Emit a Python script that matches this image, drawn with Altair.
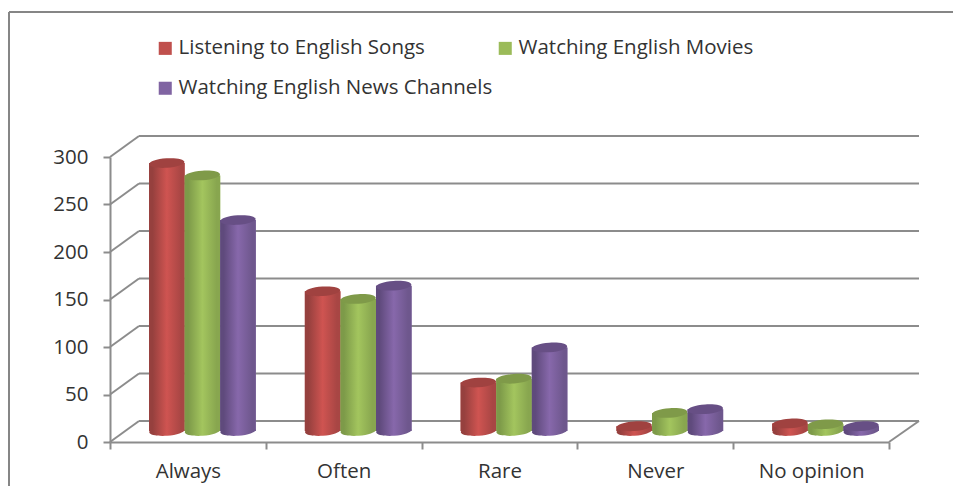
import altair as alt
import pandas as pd

categories = ["Always", "Often", "Rare", "Never", "No opinion"]
series_names = ["Listening to English Songs", "Watching English Movies", "Watching English News Channels"]
songs = [282, 147, 51, 5, 8]
movies = [269, 139, 55, 19, 7]
news = [222, 153, 88, 23, 5]
ticks = [0, 50, 100, 150, 200, 250, 300]
flat_colors = ["#c0504d", "#9bbb59", "#8064a2"]
edge_left = ["#96403e", "#7d9a49", "#5f4a7c"]
edge_mid = ["#cf5451", "#a3c55e", "#8768ab"]
edge_right = ["#a84644", "#88a64f", "#6e578d"]
top_colors = ["#a04240", "#7f9a49", "#674f85"]

W, H = 779, 285
DX, DY = 29, 21
MID_DX, MID_DY = 14.5, -11
GRID = "#8c8c8c"
FONT = "Open Sans"
TEXT = "#333333"
UNITS_DEPTH = 22.1
ELLIPSE = "M-1,0.07 A1,0.27 -4 1,1 1,-0.07 A1,0.27 -4 1,1 -1,0.07 Z"
CYL_SIZE = 1240

rows = []
for name, vals in zip(series_names, [songs, movies, news]):
    for c, v in zip(categories, vals):
        rows.append({"cat": c, "series": name, "value": v})
df = pd.DataFrame(rows)
tick_df = pd.DataFrame({"v": ticks})
tick_df["v2"] = tick_df["v"] + UNITS_DEPTH
floor_df = pd.DataFrame({"v": [0], "v2": [UNITS_DEPTH]})
frame_df = pd.DataFrame({"a": [0]})
cat_df = pd.DataFrame({"cat": categories, "v": [0] * 5})

y_scale = alt.Scale(domain=[0, 300], range=[H, 0], nice=False)
y_plain = alt.Y("v:Q", scale=y_scale, axis=None)
y_axis = alt.Y("v:Q", scale=y_scale, title=None,
               axis=alt.Axis(values=ticks, grid=False, tickSize=7, tickWidth=2, tickColor=GRID,
                             domain=True, domainColor=GRID, domainWidth=2, labels=True,
                             labelFont=FONT, labelFontSize=20.5,
                             labelColor=TEXT, labelPadding=15))

# frame
frame_top = alt.Chart(frame_df).mark_rule(color="#868686", strokeWidth=2).encode(
    x=alt.value(-101), x2=alt.value(860), y=alt.value(-145))
frame_left = alt.Chart(frame_df).mark_rule(color="#868686", strokeWidth=2).encode(
    x=alt.value(-101), y=alt.value(-145), y2=alt.value(340))

# y axis carrier, back wall and side wall
y_carrier = alt.Chart(tick_df).mark_point(opacity=0).encode(y=y_axis, x=alt.value(0))
back = alt.Chart(tick_df).mark_rule(color=GRID, strokeWidth=2, yOffset=-DY).encode(
    y=y_plain, x=alt.value(DX), x2=alt.value(W + DX + 1))
diag = alt.Chart(tick_df).mark_rule(color=GRID, strokeWidth=2).encode(
    y=y_plain, y2="v2:Q", x=alt.value(0), x2=alt.value(DX))
floor_right = alt.Chart(floor_df).mark_rule(color=GRID, strokeWidth=2).encode(
    y=y_plain, y2="v2:Q", x=alt.value(W), x2=alt.value(W + DX + 1))

# front x axis
x_front = alt.Chart(cat_df).mark_bar(opacity=0).encode(
    x=alt.X("cat:N", sort=categories, title=None,
            scale=alt.Scale(domain=categories, range=[0, W], paddingInner=0, paddingOuter=0),
            axis=alt.Axis(labelAngle=0, tickBand="extent", tickSize=7, tickWidth=2, tickColor=GRID,
                          domainColor=GRID, domainWidth=2, labelFont=FONT, labelFontSize=20.5,
                          labelColor=TEXT, labelPadding=12)),
    y=y_plain,
)

# cylinders
x_mid = alt.X("cat:N", sort=categories, axis=None,
              scale=alt.Scale(domain=categories, range=[MID_DX, W + MID_DX], paddingInner=0, paddingOuter=0))
x_off = alt.XOffset("series:N", sort=series_names,
                    scale=alt.Scale(domain=series_names, paddingInner=0, paddingOuter=0.69))
y_val = alt.Y("value:Q", scale=y_scale, axis=None)

base = alt.Chart(df).mark_bar(yOffset=MID_DY, opacity=1).encode(
    x=x_mid, xOffset=x_off, y=y_val,
    color=alt.Color("series:N", sort=series_names,
                    scale=alt.Scale(domain=series_names, range=flat_colors),
                    legend=alt.Legend(title=None, orient="none", legendX=45, legendY=-119, columns=2,
                                      values=[series_names[0], series_names[2], series_names[1]],
                                      symbolType="square", symbolSize=170, symbolStrokeWidth=0,
                                      labelFont=FONT, labelFontSize=20.5, labelColor=TEXT, padding=0,
                                      labelOffset=3, columnPadding=2, rowPadding=19,
                                      labelLimit=400)),
)

cyl_layers = [base]
for i, name in enumerate(series_names):
    grad = alt.LinearGradient(gradient="linear", x1=0, x2=1, y1=0, y2=0, stops=[
        alt.GradientStop(offset=0, color=edge_left[i]),
        alt.GradientStop(offset=0.1, color=edge_left[i]),
        alt.GradientStop(offset=0.5, color=edge_mid[i]),
        alt.GradientStop(offset=0.9, color=edge_right[i]),
        alt.GradientStop(offset=1, color=edge_right[i]),
    ])
    sub = alt.Chart(df).transform_filter(alt.datum.series == name)
    bottom = sub.mark_point(shape=ELLIPSE, size=CYL_SIZE, filled=True, fill=grad, opacity=1,
                            strokeWidth=0, yOffset=MID_DY).encode(
        x=x_mid, xOffset=x_off, y=alt.Y("zero:Q", scale=y_scale, axis=None)
    ).transform_calculate(zero="0")
    body = sub.mark_bar(fill=grad, opacity=1, yOffset=MID_DY).encode(x=x_mid, xOffset=x_off, y=y_val)
    top = sub.mark_point(shape=ELLIPSE, size=CYL_SIZE, filled=True, fill=top_colors[i], opacity=1,
                         strokeWidth=0, yOffset=MID_DY).encode(x=x_mid, xOffset=x_off, y=y_val)
    cyl_layers += [bottom, body, top]

cylinders = alt.layer(*cyl_layers)

chart = alt.layer(frame_top, frame_left, y_carrier, back, diag, floor_right, x_front, cylinders).resolve_scale(
    x="independent"
).resolve_axis(y="independent").properties(
    width=W, height=H, background="white",
    autosize=alt.AutoSizeParams(type="none"),
    padding={"left": 102, "top": 149, "right": 64, "bottom": 44},
).configure_view(stroke=None)

chart.save("out.html", embed_options={"renderer": "svg", "actions": False})
